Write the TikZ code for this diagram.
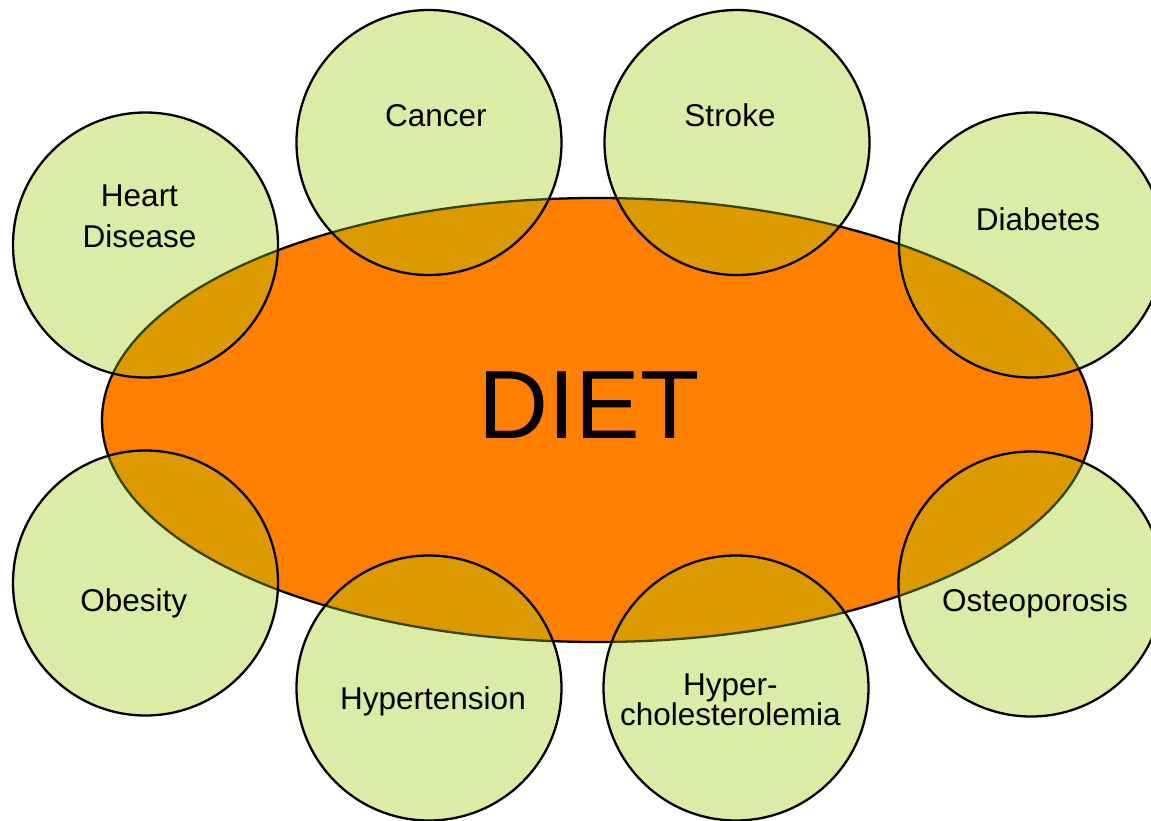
\documentclass[tikz,border=0pt]{standalone}
\usepackage{fontspec}
\setmainfont{Liberation Sans}
\usetikzlibrary{shapes.geometric}
\definecolor{dietorange}{HTML}{FF8000}
\definecolor{disgreen}{HTML}{9CC800}
\begin{document}
\begin{tikzpicture}[x=1pt,y=-1pt,
  dietshape/.style={ellipse, draw=black, line width=2.3pt, fill=dietorange,
    minimum width=990pt, minimum height=444pt, inner sep=0pt},
  disease/.style={circle, draw=black, line width=2.3pt, fill=disgreen,
    fill opacity=0.35, draw opacity=1, minimum size=265pt, inner sep=0pt},
  lbl/.style={font=\fontsize{31.5}{36}\selectfont, text=black, inner sep=0pt, anchor=base},
  lbltwo/.style={font=\fontsize{31.5}{#1}\selectfont, text=black, inner sep=0pt,
    align=center, anchor=center},
  dietlbl/.style={font=\fontsize{97}{100}\selectfont, text=black, inner sep=0pt, anchor=base}]
\useasboundingbox (0,0) rectangle (1151,821);
\clip (0,0) rectangle (1151,821);
\fill[white] (0,0) rectangle (1151,821);
% central ellipse
\node[dietshape] (diet) at (597,420) {};
% disease circles
\node[disease] (heart) at (145.5,245) {};
\node[disease] (cancer) at (429,142.5) {};
\node[disease] (stroke) at (737,142.5) {};
\node[disease] (diab) at (1031.5,245) {};
\node[disease] (obes) at (145.5,583) {};
\node[disease] (osteo) at (1031,584) {};
\node[disease] (hypert) at (429,688) {};
\node[disease] (hyperc) at (736,688) {};
% labels
\node[dietlbl] (dietT) at (589,438.3) {DIET};
\node[lbltwo=41] (heartT) at (139.5,216.5) {Heart\\Disease};
\node[lbl] (cancerT) at (435.8,126.7) {Cancer};
\node[lbl] (strokeT) at (730,126.7) {Stroke};
\node[lbl] (diabT) at (1038,230) {Diabetes};
\node[lbl] (obesT) at (133.7,611) {Obesity};
\node[lbl] (osteoT) at (1035,611.7) {Osteoporosis};
\node[lbl] (hypertT) at (433,709.3) {Hypertension};
\node[lbltwo=30] (hypercT) at (730.3,699.4) {Hyper-\\cholesterolemia};
\end{tikzpicture}
\end{document}
